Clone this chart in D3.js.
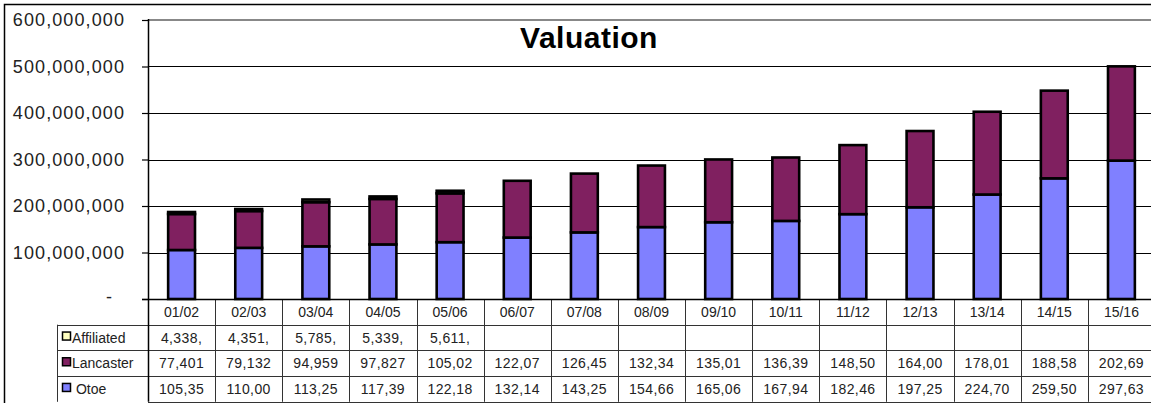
<!DOCTYPE html>
<html>
<head>
<meta charset="utf-8">
<script src="https://cdn.jsdelivr.net/npm/d3@7"></script>
<style>
  body { margin: 0; background: #fff; }
  text { font-family: "Liberation Sans", Arial, sans-serif; }
</style>
</head>
<body>
<div id="chart"></div>
<script>
// chart data
let categories = ["01/02", "02/03", "03/04", "04/05", "05/06", "06/07", "07/08", "08/09",
                  "09/10", "10/11", "11/12", "12/13", "13/14", "14/15", "15/16"];
let otoe = [105350000, 110000000, 113250000, 117390000, 122180000, 132140000, 143250000, 154660000,
            165060000, 167940000, 182460000, 197250000, 224700000, 259500000, 297630000];
let lancaster = [77401000, 79132000, 94959000, 97827000, 105020000, 122070000, 126450000, 132340000,
                 135010000, 136390000, 148500000, 164000000, 178010000, 188580000, 202690000];
let affiliated = [4338000, 4351000, 5785000, 5339000, 5611000, null, null, null,
                  null, null, null, null, null, null, null];
let yTicks = [0, 100000000, 200000000, 300000000, 400000000, 500000000, 600000000];
let seriesNames = ["Otoe", "Lancaster", "Affiliated"];
let title = "Valuation";

function makeChart() {
  let svgWidth = 1151;
  let svgHeight = 403;

  let plot = { left: 148, right: 1155, top: 20, bottom: 299 };
  let rowH = 25.7;
  let legendLeft = 57;

  let colors = { Otoe: "#8080ff", Lancaster: "#802060", Affiliated: "#ffffc0" };

  let svg = d3.select("#chart")
    .append("svg")
    .attr("width", svgWidth)
    .attr("height", svgHeight);

  // outer frame (right / bottom run off the picture)
  svg.append("rect")
    .attr("x", 4.5).attr("y", 4.5)
    .attr("width", 1160).attr("height", 410)
    .attr("fill", "none").attr("stroke", "#000").attr("stroke-width", 1.5);

  let rows = categories.map((c, i) => ({
    cat: c, Otoe: otoe[i], Lancaster: lancaster[i], Affiliated: affiliated[i] || 0
  }));

  let colScale = d3.scaleBand()
    .domain(categories)
    .range([plot.left, plot.right]);

  let xScale = d3.scaleBand()
    .domain(categories)
    .range([plot.left, plot.right])
    .paddingInner(0.6)
    .paddingOuter(0.3);

  let yScale = d3.scaleLinear()
    .domain([0, 600000000])
    .range([plot.bottom, plot.top]);

  // gridlines
  svg.append("g")
    .selectAll("line")
    .data(yTicks.filter(t => t > 0 && t < 600000000))
    .enter()
    .append("line")
    .attr("x1", plot.left).attr("x2", plot.right)
    .attr("y1", d => Math.round(yScale(d)) + 0.5)
    .attr("y2", d => Math.round(yScale(d)) + 0.5)
    .attr("stroke", "#000").attr("stroke-width", 1);

  // plot top edge (grey)
  svg.append("line")
    .attr("x1", plot.left).attr("x2", plot.right)
    .attr("y1", yScale(600000000)).attr("y2", yScale(600000000))
    .attr("stroke", "#888").attr("stroke-width", 2);

  // y axis
  let yAxis = d3.axisLeft(yScale)
    .tickValues(yTicks)
    .tickSize(6)
    .tickFormat(d => d === 0 ? "-" : d3.format(",")(d));

  let yG = svg.append("g")
    .attr("transform", `translate(${plot.left}, 0)`)
    .call(yAxis);
  yG.select(".domain").remove();
  yG.selectAll(".tick line").attr("stroke", "#000").attr("stroke-width", 1.2);
  yG.selectAll(".tick text")
    .attr("x", -23)
    .attr("fill", "#222")
    .attr("font-size", "18px")
    .attr("letter-spacing", "1.1px")
    .attr("font-family", "'Liberation Sans', Arial, sans-serif");
  yG.selectAll(".tick text").filter(d => d === 0).attr("x", -35).attr("dy", "0.2em");

  // stacked bars
  let stack = d3.stack().keys(seriesNames);
  let layers = stack(rows);

  svg.append("g")
    .selectAll("g")
    .data(layers)
    .enter()
    .append("g")
    .attr("fill", d => colors[d.key])
    .selectAll("rect")
    .data(d => d)
    .enter()
    .append("rect")
    .attr("x", d => xScale(d.data.cat))
    .attr("width", xScale.bandwidth())
    .attr("y", d => yScale(d[1]))
    .attr("height", d => yScale(d[0]) - yScale(d[1]))
    .attr("stroke", "#000")
    .attr("stroke-width", 2.6);

  // title
  svg.append("text")
    .attr("x", 589)
    .attr("y", 48)
    .attr("text-anchor", "middle")
    .attr("font-size", "30px")
    .attr("font-weight", "bold")
    .attr("letter-spacing", "0.5px")
    .attr("fill", "#000")
    .text(title);

  // ---- data table ----
  let table = svg.append("g");
  let top = plot.bottom;
  let bottom = top + rowH * 4;
  let lineColor = "#333";

  // horizontal lines
  for (let r = 1; r <= 4; r++) {
    table.append("line")
      .attr("x1", r === 1 ? legendLeft : plot.left).attr("x2", plot.right)
      .attr("y1", Math.round(top + rowH * r) + 0.5)
      .attr("y2", Math.round(top + rowH * r) + 0.5)
      .attr("stroke", lineColor).attr("stroke-width", 1);
  }
  table.append("line")
    .attr("x1", legendLeft).attr("x2", plot.left)
    .attr("y1", Math.round(top + rowH * 2) + 0.5).attr("y2", Math.round(top + rowH * 2) + 0.5)
    .attr("stroke", lineColor);
  table.append("line")
    .attr("x1", legendLeft).attr("x2", plot.left)
    .attr("y1", Math.round(top + rowH * 3) + 0.5).attr("y2", Math.round(top + rowH * 3) + 0.5)
    .attr("stroke", lineColor);

  // vertical lines
  table.selectAll(".vline")
    .data(categories.slice(1))
    .enter()
    .append("line")
    .attr("x1", d => Math.round(colScale(d)) + 0.5)
    .attr("x2", d => Math.round(colScale(d)) + 0.5)
    .attr("y1", top).attr("y2", bottom)
    .attr("stroke", lineColor);
  table.append("line")
    .attr("x1", legendLeft + 0.5).attr("x2", legendLeft + 0.5)
    .attr("y1", top + rowH).attr("y2", bottom)
    .attr("stroke", lineColor);

  // category labels
  table.selectAll(".cat")
    .data(categories)
    .enter()
    .append("text")
    .attr("x", d => colScale(d) + colScale.bandwidth() / 2)
    .attr("y", top + rowH / 2 + 5)
    .attr("text-anchor", "middle")
    .attr("font-size", "14px")
    .attr("fill", "#222")
    .text(d => d);

  // value rows, top to bottom
  let tableRows = [
    { name: "Affiliated", label: "Affiliated", values: affiliated },
    { name: "Lancaster", label: "Lancaster", values: lancaster },
    { name: "Otoe", label: " Otoe", values: otoe }
  ];
  let fmt = d3.format(",");

  tableRows.forEach(function(row, i) {
    let cy = top + rowH * (i + 1) + rowH / 2;

    table.append("rect")
      .attr("x", 62.5).attr("y", cy - 5.5)
      .attr("width", 8).attr("height", 8)
      .attr("fill", colors[row.name])
      .attr("stroke", "#000").attr("stroke-width", 1.5);

    table.append("text")
      .attr("x", 72)
      .attr("y", cy + 5)
      .attr("font-size", "14px")
      .attr("fill", "#222")
      .attr("xml:space", "preserve")
      .style("white-space", "pre")
      .text(row.label);

    table.selectAll(".v" + i)
      .data(row.values.map((v, j) => ({ v: v, cat: categories[j] })))
      .enter()
      .append("text")
      .attr("x", d => colScale(d.cat) + colScale.bandwidth() / 2)
      .attr("y", cy + 5)
      .attr("text-anchor", "middle")
      .attr("font-size", "14px")
      .attr("letter-spacing", "0.4px")
      .attr("fill", "#222")
      // cells are too narrow, so the numbers are cut like in the spreadsheet
      .text(d => d.v == null ? "" : fmt(d.v).slice(0, 6));
  });

  // left edge of plot running down through the table
  svg.append("line")
    .attr("x1", plot.left + 0.5).attr("x2", plot.left + 0.5)
    .attr("y1", plot.top - 1).attr("y2", bottom)
    .attr("stroke", "#000").attr("stroke-width", 1.5);

  // baseline
  svg.append("line")
    .attr("x1", plot.left - 6).attr("x2", plot.right)
    .attr("y1", plot.bottom + 0.5).attr("y2", plot.bottom + 0.5)
    .attr("stroke", "#000").attr("stroke-width", 1.5);
}

makeChart();
</script>
</body>
</html>
